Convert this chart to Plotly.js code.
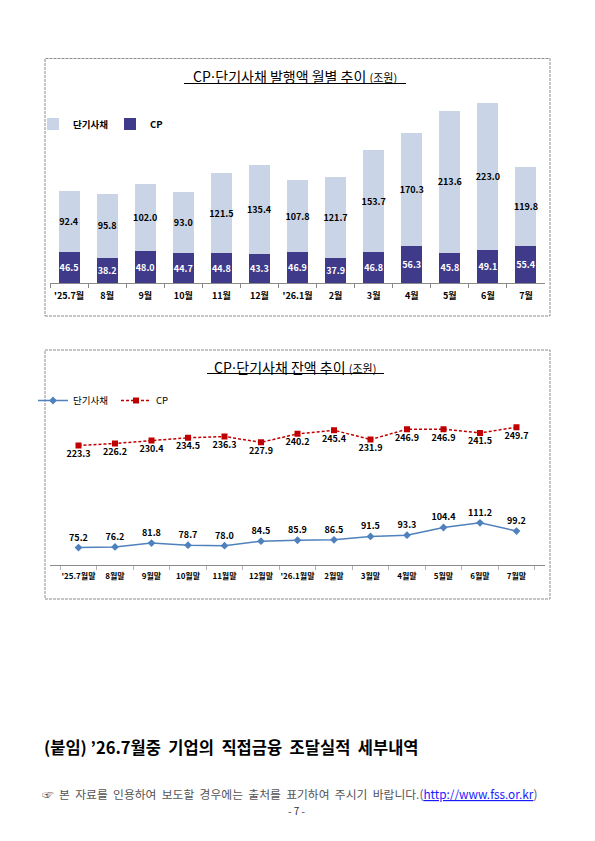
<!DOCTYPE html>
<html><head><meta charset="utf-8">
<script src="https://cdn.plot.ly/plotly-3.0.1.min.js"></script>
<style>html,body{margin:0;padding:0;background:#fff}</style>
</head><body><div id="chart" style="width:595px;height:841px"></div>
<script>
// ---- data ----
const issueMonths = ["'25.7월","8월","9월","10월","11월","12월","'26.1월","2월","3월","4월","5월","6월","7월"];
const issueCP  = [46.5,38.2,48.0,44.7,44.8,43.3,46.9,37.9,46.8,56.3,45.8,49.1,55.4];
const issueSTB = [92.4,95.8,102.0,93.0,121.5,135.4,107.8,121.7,153.7,170.3,213.6,223.0,119.8];
const balMonths = ["'25.7월말","8월말","9월말","10월말","11월말","12월말","'26.1월말","2월말","3월말","4월말","5월말","6월말","7월말"];
const balSTB = [75.2,76.2,81.8,78.7,78.0,84.5,85.9,86.5,91.5,93.3,104.4,111.2,99.2];
const balCP  = [223.3,226.2,230.4,234.5,236.3,227.9,240.2,245.4,231.9,246.9,246.9,241.5,249.7];

// ---- helpers (page pixel -> paper) ----
const W = 595, H = 841;
const px = x => x / W;
const py = y => 1 - y / H;
const FONT = "'Noto Sans CJK KR', 'Noto Sans', sans-serif";
const DOT = '<span style="font-family:DejaVu Sans">·</span>';

const traces = [
  {type:'bar', name:'CP', x:issueMonths, y:issueCP, xaxis:'x', yaxis:'y',
   marker:{color:'#403a8a'}, texttemplate:'%{y:.1f}', textposition:'inside',
   insidetextanchor:'middle', textangle:0, constraintext:'none',
   textfont:{family:FONT, size:9, color:'#ffffff', weight:'bold'}, legend:'legend', hoverinfo:'skip'},
  {type:'bar', name:'단기사채', x:issueMonths, y:issueSTB, xaxis:'x', yaxis:'y',
   marker:{color:'#c9d5e6'}, texttemplate:'%{y:.1f}', textposition:'inside',
   insidetextanchor:'middle', textangle:0, constraintext:'none',
   textfont:{family:FONT, size:9, color:'#000000', weight:'bold'}, legend:'legend', hoverinfo:'skip'},
  {type:'scatter', mode:'lines+markers+text', name:'단기사채', x:balMonths, y:balSTB, xaxis:'x2', yaxis:'y2',
   line:{color:'#4f81bd', width:1.5}, marker:{symbol:'diamond', size:6, color:'#4f81bd'},
   texttemplate:'%{y:.1f}', textposition:'top center',
   textfont:{family:FONT, size:9, color:'#000000', weight:'bold'}, legend:'legend2', hoverinfo:'skip'},
  {type:'scatter', mode:'lines+markers+text', name:'CP', x:balMonths, y:balCP, xaxis:'x2', yaxis:'y2',
   line:{color:'#c00000', width:1.5, dash:'3px,2px'}, marker:{symbol:'square', size:6, color:'#c00000'},
   texttemplate:'%{y:.1f}', textposition:'bottom center',
   textfont:{family:FONT, size:9, color:'#000000', weight:'bold'}, legend:'legend2', hoverinfo:'skip'}
];

const boxLine = {color:'#8c8c8c', width:1, dash:'3px,1px'};
const layout = {
  width: W, height: H,
  margin:{l:0, r:0, t:0, b:0},
  paper_bgcolor:'#ffffff', plot_bgcolor:'rgba(0,0,0,0)',
  font:{family:FONT, color:'#000000'},
  barmode:'stack', bargap:0.45,
  showlegend:true,
  xaxis:{domain:[px(50), px(545)], type:'category', showgrid:false, zeroline:false,
         showline:true, linecolor:'#8a8a8a', linewidth:1, ticks:'outside', tickson:'boundaries',
         ticklen:4, tickcolor:'#8a8a8a', tickangle:0, ticklabelstandoff:4,
         tickfont:{family:FONT, size:9, weight:'bold'}, fixedrange:true},
  yaxis:{domain:[py(283), py(95)], range:[0, 283.7], visible:false, fixedrange:true},
  xaxis2:{domain:[px(50), px(545)], type:'category', showgrid:false, zeroline:false, anchor:'y2',
         showline:true, linecolor:'#8a8a8a', linewidth:1, ticks:'outside', tickson:'boundaries',
         ticklen:4, tickcolor:'#b0b0b0', tickangle:0, ticklabelstandoff:3,
         tickfont:{family:FONT, size:8, weight:'bold'}, fixedrange:true},
  yaxis2:{domain:[py(565), py(392.6)], range:[50, 300], visible:false, anchor:'x2', fixedrange:true},
  legend:{orientation:'h', x:px(33), y:py(124), xanchor:'left', yanchor:'middle', traceorder:'reversed',
          entrywidth:32, entrywidthmode:'pixels', font:{family:FONT, size:9.5, weight:'bold'}, bgcolor:'rgba(0,0,0,0)'},
  legend2:{orientation:'h', x:px(33), y:py(400.5), xanchor:'left', yanchor:'middle', traceorder:'normal',
          entrywidth:38, entrywidthmode:'pixels', font:{family:FONT, size:9.5}, bgcolor:'rgba(0,0,0,0)'},
  shapes:[
    {type:'rect', xref:'paper', yref:'paper', x0:px(45), x1:px(550), y0:py(316), y1:py(58.5), line:boxLine},
    {type:'rect', xref:'paper', yref:'paper', x0:px(45), x1:px(550), y0:py(599), y1:py(350), line:boxLine},
    {type:'line', xref:'paper', yref:'paper', x0:px(184), x1:px(406), y0:py(83.5), y1:py(83.5), line:{color:'#000', width:1}},
    {type:'line', xref:'paper', yref:'paper', x0:px(207), x1:px(384), y0:py(373.5), y1:py(373.5), line:{color:'#000', width:1}}
  ],
  annotations:[
    {xref:'paper', yref:'paper', x:px(295), y:py(76), xanchor:'center', yanchor:'middle', showarrow:false,
     text:'CP' + DOT + '단기사채 발행액 월별 추이 <span style="font-size:11px">(조원)</span>',
     font:{family:FONT, size:14, color:'#000'}},
    {xref:'paper', yref:'paper', x:px(295), y:py(366.5), xanchor:'center', yanchor:'middle', showarrow:false,
     text:'CP' + DOT + '단기사채 잔액 추이 <span style="font-size:11px">(조원)</span>',
     font:{family:FONT, size:14, color:'#000'}},
    {xref:'paper', yref:'paper', x:px(42), y:py(747), xanchor:'left', yanchor:'middle', showarrow:false,
     text:'(붙임) ’26.7월중  기업의  직접금융  조달실적  세부내역',
     font:{family:FONT, size:16.5, color:'#000', weight:'bold'}},
    {xref:'paper', yref:'paper', x:px(40), y:py(793), xanchor:'left', yanchor:'middle', showarrow:false,
     text:'☞  본  자료를  인용하여  보도할  경우에는  출처를  표기하여  주시기  바랍니다.(<span style="color:#1a1aff;text-decoration:underline">http://www.fss.or.kr</span>)',
     font:{family:FONT, size:11.8, color:'#555'}},
    {xref:'paper', yref:'paper', x:px(297), y:py(810), xanchor:'center', yanchor:'middle', showarrow:false,
     text:'- 7 -', font:{family:FONT, size:10, color:'#333'}}
  ]
};

Plotly.newPlot('chart', traces, layout, {staticPlot:true, displayModeBar:false});
</script></body></html>
